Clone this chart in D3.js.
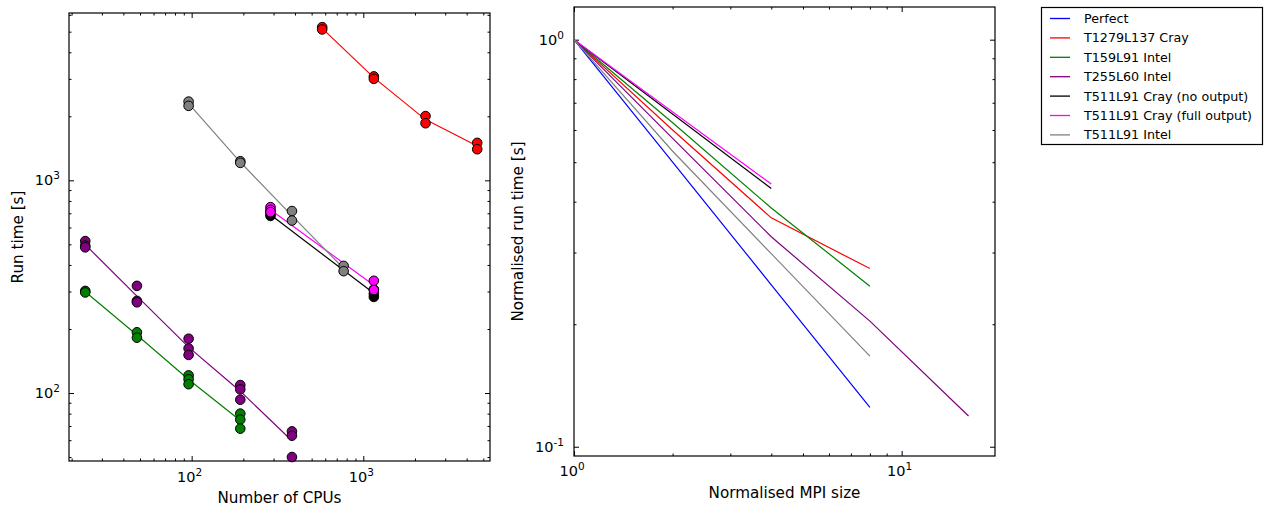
<!DOCTYPE html>
<html><head><meta charset="utf-8">
<script src="https://cdn.jsdelivr.net/npm/d3@7"></script>
<style>
html,body{margin:0;padding:0;background:#fff;}
text{font-family:"DejaVu Sans",sans-serif;fill:#000;}
</style></head>
<body>
<svg id="chart" width="1264" height="508"></svg>
<script>
// ---------- data (left panel: run times per CPU count) ----------
const seriesNames = ["Perfect","T1279L137 Cray","T159L91 Intel","T255L60 Intel","T511L91 Cray (no output)","T511L91 Cray (full output)","T511L91 Intel"];
const seriesColors = ["#0000ff","#ff0000","#008000","#800080","#000000","#ff00ff","#808080"];

const t1279CrayCpus = [576, 1152, 2304, 4608];
const t1279CrayTimes = [[5250, 5120], [3080, 3000], [2005, 1855], [1500, 1400]];

const t159IntelCpus = [24, 48, 96, 192];
const t159IntelTimes = [[302, 297], [193, 182], [121, 116, 110], [80, 75, 68]];

const t255IntelCpus = [24, 48, 96, 192, 384];
const t255IntelTimes = [[518, 493, 484], [319, 271, 267], [180, 162, 151], [109, 104, 93], [66, 63, 50]];

const t511CrayNoOutCpus = [288, 1152];
const t511CrayNoOutTimes = [[697, 680], [307, 293, 283]];

const t511CrayFullCpus = [288, 1152];
const t511CrayFullTimes = [[748, 725, 709], [337, 305]];

const t511IntelCpus = [96, 192, 384, 768];
const t511IntelTimes = [[2345, 2240], [1230, 1208], [717, 647], [396, 374]];

// ---------- data (right panel: normalised run time vs normalised MPI size) ----------
const perfectX = [1, 2, 4, 8];
const perfectY = [1, 0.5, 0.25, 0.125];
const t1279CrayX = [1, 2, 4, 8];
const t1279CrayY = [1, 0.60, 0.365, 0.274];
const t159IntelX = [1, 2, 4, 8];
const t159IntelY = [1, 0.625, 0.386, 0.248];
const t255IntelX = [1, 2, 4, 8, 16];
const t255IntelY = [1, 0.572, 0.328, 0.2035, 0.119];
const t511CrayNoOutX = [1, 4];
const t511CrayNoOutY = [1, 0.431];
const t511CrayFullX = [1, 4];
const t511CrayFullY = [1, 0.442];
const t511IntelX = [1, 2, 4, 8];
const t511IntelY = [1, 0.532, 0.298, 0.167];

// ---------- ticks ----------
const leftXMajor = [100, 1000];
const leftYMajor = [100, 1000];
const rightXMajor = [1, 10];
const rightYMajor = [0.1, 1];

const svg = d3.select("#chart");

function minorTicks(lo, hi){
  const out=[];
  for(let e=Math.floor(Math.log10(lo))-1;e<=Math.ceil(Math.log10(hi));e++){
    for(let m=2;m<=9;m++){const v=m*Math.pow(10,e); if(v>lo && v<hi) out.push(v);}
  }
  return out;
}

function drawPanel(g, x, y, xMajor, yMajor){
  const [x0,x1]=x.range(), [y0,y1]=y.range(); // y0 bottom
  const xd=x.domain(), yd=y.domain();
  const xMinor=minorTicks(xd[0],xd[1]), yMinor=minorTicks(yd[0],yd[1]);
  const MAJ=5, MIN=2.5;
  const axes=[
    [d3.axisBottom(x), `translate(0,${y0})`, xMajor, xMinor],
    [d3.axisTop(x), `translate(0,${y1})`, xMajor, xMinor],
    [d3.axisLeft(y), `translate(${x0},0)`, yMajor, yMinor],
    [d3.axisRight(y), `translate(${x1},0)`, yMajor, yMinor]
  ];
  axes.forEach(([ax, tr, maj, mn])=>{
    const a1=g.append("g").attr("transform",tr).call(ax.tickValues(maj).tickSize(-MAJ).tickFormat(""));
    const a2=g.append("g").attr("transform",tr).call(ax.tickValues(mn).tickSize(-MIN).tickFormat(""));
    [a1,a2].forEach(a=>{a.select(".domain").remove(); a.selectAll("line").attr("stroke","#000").attr("stroke-width",1);});
  });
  g.append("rect").attr("x",x0).attr("y",y1).attr("width",x1-x0).attr("height",y0-y1)
    .attr("fill","none").attr("stroke","#000").attr("stroke-width",1.2);
}

function powLabel(g, px, py, v, anchor){
  const e=Math.round(Math.log10(v));
  const t=g.append("text").attr("x",px).attr("y",py).attr("text-anchor",anchor).style("font-size","14.5px");
  t.append("tspan").text("10");
  t.append("tspan").attr("dy",-6).style("font-size","10.5px").text(e<0?("-"+(-e)):String(e));
}

// ---------- left panel ----------
const L={l:69,r:490,t:13,b:461};
const xL=d3.scaleLog().domain([19.3,5470]).range([L.l,L.r]);
const yL=d3.scaleLog().domain([47.9,6120]).range([L.b,L.t]);
const gL=svg.append("g");
drawPanel(gL,xL,yL,leftXMajor,leftYMajor);
leftXMajor.forEach(v=>powLabel(gL,xL(v)-2,L.b+21,v,"middle"));
leftYMajor.forEach(v=>powLabel(gL,L.l-9,yL(v)+5,v,"end"));
gL.append("text").attr("x",(L.l+L.r)/2).attr("y",503).attr("text-anchor","middle").style("font-size","15.2px").text("Number of CPUs");
gL.append("text").attr("transform",`translate(23,${(L.t+L.b)/2}) rotate(-90)`).attr("text-anchor","middle").style("font-size","15.2px").text("Run time [s]");

const leftSeries=[
  {cpus:t159IntelCpus, times:t159IntelTimes, c:2},
  {cpus:t255IntelCpus, times:t255IntelTimes, c:3},
  {cpus:t511CrayNoOutCpus, times:t511CrayNoOutTimes, c:4},
  {cpus:t511CrayFullCpus, times:t511CrayFullTimes, c:5},
  {cpus:t511IntelCpus, times:t511IntelTimes, c:6},
  {cpus:t1279CrayCpus, times:t1279CrayTimes, c:1}
];
const lineL=d3.line().x(d=>xL(d[0])).y(d=>yL(d[1]));
leftSeries.forEach(s=>{
  const col=seriesColors[s.c];
  const pts=[]; s.cpus.forEach((n,i)=>s.times[i].forEach(t=>pts.push([n,t])));
  const means=s.cpus.map((n,i)=>[n,d3.mean(s.times[i])]);
  gL.append("path").datum(means).attr("d",lineL).attr("fill","none").attr("stroke",col).attr("stroke-width",1.2);
  gL.selectAll(null).data(pts).enter().append("circle")
    .attr("cx",d=>xL(d[0])).attr("cy",d=>yL(d[1])).attr("r",4.8)
    .attr("fill",col).attr("stroke","#000").attr("stroke-width",1);
});

// ---------- right panel ----------
const R={l:574,r:995,t:7,b:456};
const xR=d3.scaleLog().domain([1,19.27]).range([R.l,R.r]);
const yR=d3.scaleLog().domain([0.0949,1.203]).range([R.b,R.t]);
const gR=svg.append("g");
drawPanel(gR,xR,yR,rightXMajor,rightYMajor);
rightXMajor.forEach(v=>powLabel(gR,xR(v)-2,R.b+20,v,"middle"));
rightYMajor.forEach(v=>powLabel(gR,R.l-10,yR(v)+5,v,"end"));
gR.append("text").attr("x",(R.l+R.r)/2).attr("y",498).attr("text-anchor","middle").style("font-size","15.2px").text("Normalised MPI size");
gR.append("text").attr("transform",`translate(523,${(R.t+R.b)/2}) rotate(-90)`).attr("text-anchor","middle").style("font-size","15.2px").text("Normalised run time [s]");

const rightSeries=[
  {x:perfectX,y:perfectY,c:0},
  {x:t1279CrayX,y:t1279CrayY,c:1},
  {x:t159IntelX,y:t159IntelY,c:2},
  {x:t255IntelX,y:t255IntelY,c:3},
  {x:t511CrayNoOutX,y:t511CrayNoOutY,c:4},
  {x:t511CrayFullX,y:t511CrayFullY,c:5},
  {x:t511IntelX,y:t511IntelY,c:6}
];
const lineR=d3.line().x(d=>xR(d[0])).y(d=>yR(d[1]));
rightSeries.forEach(s=>{
  gR.append("path").datum(s.x.map((v,i)=>[v,s.y[i]])).attr("d",lineR)
    .attr("fill","none").attr("stroke",seriesColors[s.c]).attr("stroke-width",1.2);
});

// ---------- legend ----------
const lg=svg.append("g");
lg.append("rect").attr("x",1041.5).attr("y",7.5).attr("width",221).attr("height",137)
  .attr("fill","#fff").attr("stroke","#000").attr("stroke-width",1.2);
seriesNames.forEach((n,i)=>{
  const yy=18.5+19.4*i;
  lg.append("line").attr("x1",1050).attr("x2",1070).attr("y1",yy).attr("y2",yy).attr("stroke",seriesColors[i]).attr("stroke-width",1.3);
  lg.append("text").attr("x",1084).attr("y",yy+4.5).style("font-size","12.7px").text(n);
});
</script>
</body></html>
